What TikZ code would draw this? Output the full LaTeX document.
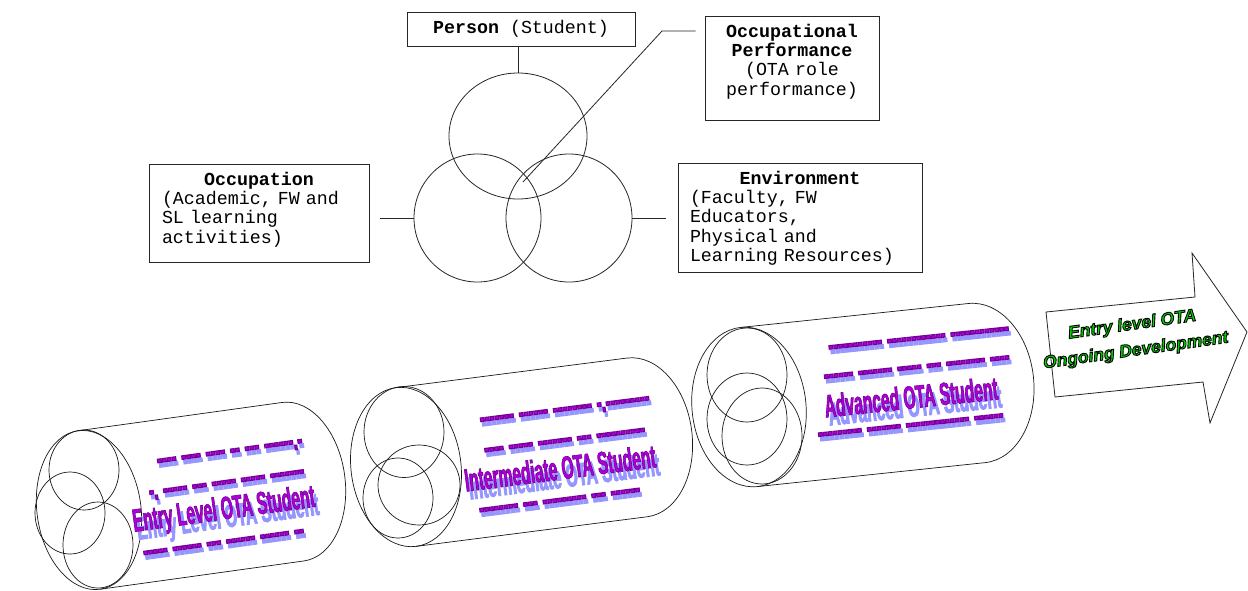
\documentclass[tikz,border=0pt]{standalone}
\usepackage{fontspec}
\usetikzlibrary{shapes.geometric,calc}
\newfontfamily\cour{Liberation Mono}[WordSpace={1,0,0}]
\newfontfamily\wafont{Liberation Sans Bold}[FakeStretch=0.49]
\newfontfamily\grfont{Liberation Sans Bold Italic}
\definecolor{wapurple}{RGB}{175,0,215}
\definecolor{washadow}{RGB}{150,150,255}
\definecolor{grgreen}{RGB}{0,215,0}
\newcommand\outl[3]{\special{pdf:literal direct #1 RG #2 w 2 Tr}#3\special{pdf:literal direct 0 Tr}}
\newcommand\dd[1]{\foreach\k in {1,...,#1}{-}}
\newcommand\gap{\hspace{5pt}}
\newcommand\cylinder[5]{%
  \begin{scope}[shift={(#1,#2)}, rotate=#3]
    \draw[cylline] (0,0) ellipse[x radius=#5, y radius=80];
    \draw[cylline] (0,-80) -- (#4,-80) arc[start angle=-90, end angle=90, x radius=#5, y radius=80] -- (0,80);
  \end{scope}}
\tikzset{
  box/.style={draw=black!85, line width=0.8pt, font=\cour\fontsize{18.3}{19.3}\selectfont, inner ysep=0pt},
  ring/.style={draw=black!85, ellipse, line width=0.8pt, inner sep=0pt},
  link/.style={draw=black!85, line width=0.8pt},
  cylline/.style={draw=black!90, line width=0.7pt},
  inner/.style={draw=black!90, line width=0.7pt},
  watitle/.style={font=\wafont\fontsize{32}{32}\selectfont, text=wapurple, inner sep=0pt},
  washad/.style={font=\wafont\fontsize{32}{32}\selectfont, text=washadow, inner sep=0pt},
  warow/.style={font=\wafont\fontsize{30}{30}\selectfont, text=wapurple, inner sep=0pt},
  warowsh/.style={font=\wafont\fontsize{30}{30}\selectfont, text=washadow, inner sep=0pt},
  grtext/.style={font=\grfont\fontsize{17.5}{26}\selectfont, text=grgreen, inner sep=0pt, align=center},
  arrowshape/.style={draw=black!85, line width=0.8pt}
}
\newcommand\wat[4]{% x, y, angle, text
  \node[washad, rotate=#3] at ($(#1,#2)+(4,8)$) {\outl{0.59 0.59 1}{0.8}{#4}};
  \node[watitle, rotate=#3] at (#1,#2) {\outl{0.45 0 0.6}{0.6}{#4}};}
\newcommand\war[4]{%
  \node[warowsh, rotate=#3] at ($(#1,#2)+(2,4.5)$) {\outl{0.59 0.59 1}{1.1}{#4}};
  \node[warow, rotate=#3] at (#1,#2) {\outl{0.45 0 0.6}{1.1}{#4}};}
\begin{document}
\begin{tikzpicture}[x=1pt,y=-1pt]
\path[use as bounding box, fill=white] (0,0) rectangle (1248,590);

% ---------- top model ----------
\node[box, minimum width=228pt, minimum height=34pt, inner xsep=4pt] (person) at (521,29) {\textbf{Person} (Student)};
\node[box, text width=150pt, inner xsep=12pt, align=center, minimum height=104pt] (perf) at (792,68)
  {\textbf{Occupational}\\\textbf{Performance}\\(OTA role\\performance)\rule[-17pt]{0pt}{1pt}};
\node[box, text width=194pt, inner xsep=13pt, align=left, minimum height=98pt] (occ) at (259,213)
  {\makebox[194pt]{\bfseries Occupation}\\(Academic, FW and\\SL learning\\activities)\rule[-11pt]{0pt}{1pt}};
\node[box, text width=220pt, inner xsep=12pt, align=left, minimum height=109pt] (env) at (800,218)
  {\makebox[220pt]{\bfseries Environment}\\(Faculty, FW\\Educators,\\Physical and\\Learning Resources)};

\node[ring, minimum width=138pt, minimum height=126pt] (cP) at (518,136) {};
\node[ring, minimum width=127pt, minimum height=128pt] (cL) at (477.5,218) {};
\node[ring, minimum width=126pt, minimum height=128pt] (cR) at (569,218) {};

\draw[link] (cP.north) -- (cP.north |- person.south);
\draw[link] (cL.west) -- ++(-34,0);
\draw[link] (cR.east) -- ++(34,0);
\coordinate (pp) at (523,182);
\coordinate (pk) at (662,31);
\coordinate (pe) at ($(perf.west |- pk)+(-9,0)$);
\draw[link] (pp) -- (pk) -- (pe);

% ---------- cylinders ----------
\cylinder{89}{510}{7.9}{206}{52}
\cylinder{406}{467}{7.3}{233}{55}
\cylinder{749}{407}{6.0}{229}{57}

\draw[inner] (84,470) ellipse[x radius=35, y radius=40];
\draw[inner] (70,513) ellipse[x radius=35, y radius=41];
\draw[inner] (98,545) ellipse[x radius=35, y radius=43];

\draw[inner] (404,432) ellipse[x radius=40, y radius=45.5];
\draw[inner] (419,485) ellipse[x radius=41, y radius=40];
\draw[inner] (398,498) ellipse[x radius=35, y radius=40];

\draw[inner] (747,375) ellipse[x radius=40, y radius=47];
\draw[inner] (747,419) ellipse[x radius=40, y radius=46];
\draw[inner] (762,436) ellipse[x radius=40, y radius=48];

% cylinder 1 texts
\war{230}{454}{7.9}{\dd{4}\gap\dd{4}\gap\dd{4}\gap\dd{2}\gap\dd{3}\gap\dd{6}.\dd{1}}
\war{227}{485}{7.9}{\dd{1}.\gap\dd{5}\gap\dd{3}\gap\dd{5}\gap\dd{5}\gap\dd{7}}
\wat{224}{511}{7.9}{Entry Level OTA Student}
\war{224}{545}{7.9}{\dd{5}\gap\dd{6}\gap\dd{3}\gap\dd{6}\gap\dd{6}\gap\dd{2}}

% cylinder 2 texts
\war{565}{412}{7.3}{\dd{7}\gap\dd{6}\gap\dd{8}\gap\dd{1}.\dd{9}}
\war{565}{443}{7.3}{\dd{4}\gap\dd{5}\gap\dd{7}\gap\dd{3}\gap\dd{10}}
\wat{560}{468}{7.3}{Intermediate OTA Student}
\war{560}{503}{7.3}{\dd{8}\gap\dd{3}\gap\dd{9}\gap\dd{3}\gap\dd{6}}

% cylinder 3 texts
\war{919}{341}{6}{\dd{11}\gap\dd{12}\gap\dd{12}}
\war{917}{370}{6}{\dd{6}\gap\dd{7}\gap\dd{5}\gap\dd{3}\gap\dd{8}\gap\dd{4}}
\wat{911}{397}{6}{Advanced OTA Student}
\war{911}{428}{6}{\dd{9}\gap\dd{7}\gap\dd{13}\gap\dd{6}}

% ---------- arrow ----------
\draw[arrowshape] (1046,312) -- (1195,297) -- (1192,253) -- (1247,332) -- (1210,423) -- (1203,382) -- (1055,397) -- cycle;
\node[grtext, rotate=8] (arrowtxt) at (1134,338)
  {\outl{0 0 0}{0.9}{Entry level OTA}\\\outl{0 0 0}{0.9}{Ongoing Development}};
\end{tikzpicture}
\end{document}
